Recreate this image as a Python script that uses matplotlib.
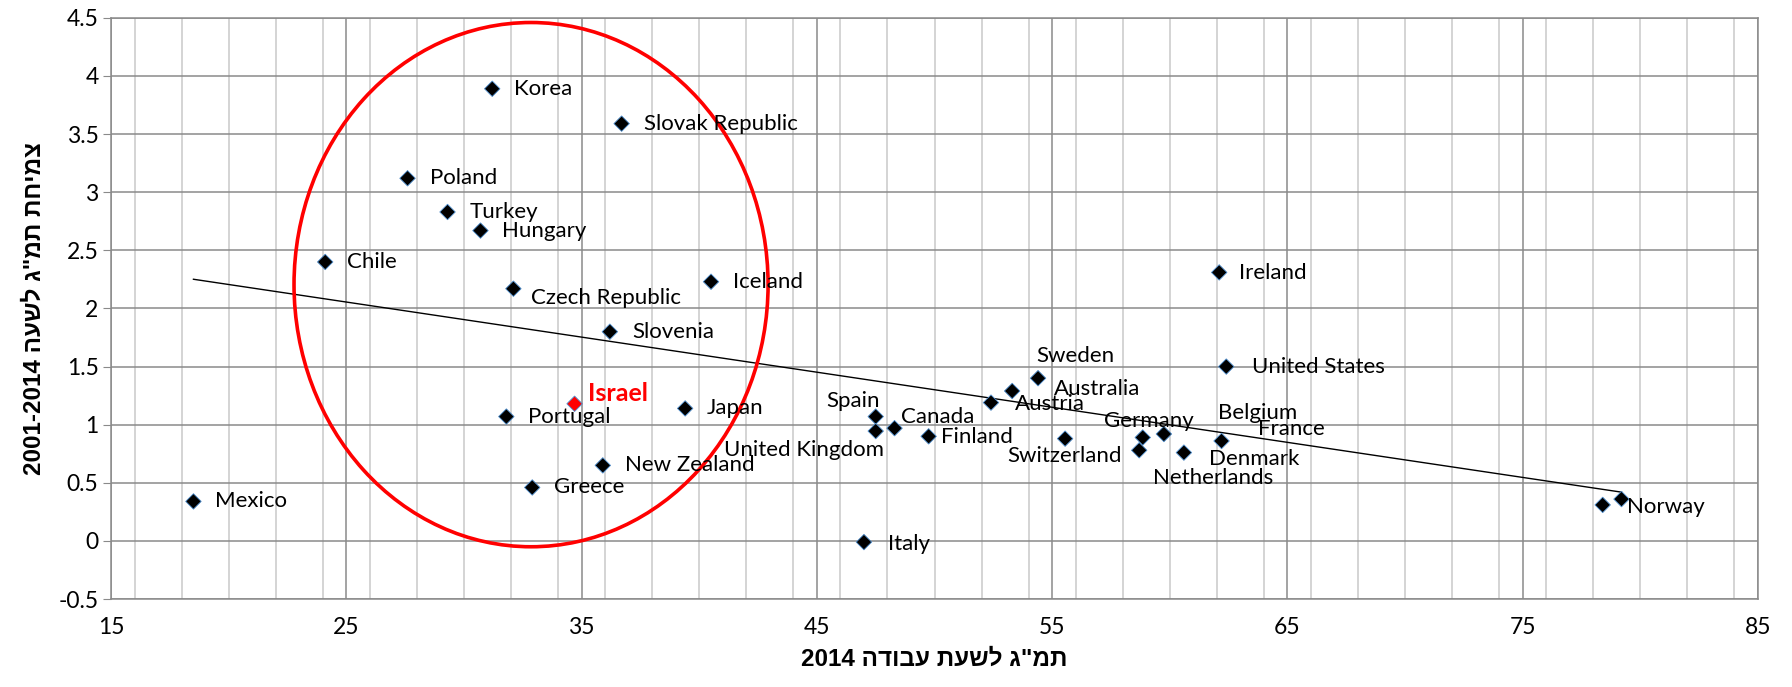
import numpy as np
import matplotlib
matplotlib.use("Agg")
import matplotlib.pyplot as plt
from matplotlib.patches import Ellipse
from matplotlib.ticker import MultipleLocator

# GDP per hour worked 2014 (x) vs. growth of GDP per hour 2001-2014 (y)
countries = ["Mexico", "Chile", "Poland", "Turkey", "Hungary", "Korea",
             "Czech Republic", "Portugal", "Greece", "Israel", "Slovenia",
             "New Zealand", "Slovak Republic", "Japan", "Iceland", "Italy",
             "Spain", "United Kingdom", "Canada", "Finland", "Austria",
             "Australia", "Sweden", "Switzerland", "Germany", "Netherlands",
             "France", "Denmark", "Belgium", "Ireland", "United States",
             "Norway", ""]
gdp_hour = [18.5, 24.1, 27.6, 29.3, 30.7, 31.2,
            32.1, 31.8, 32.9, 34.7, 36.2,
            35.9, 36.7, 39.4, 40.5, 47.0,
            47.5, 47.5, 48.3, 49.75, 52.4,
            53.3, 54.4, 55.55, 58.85, 58.7,
            59.75, 60.6, 62.2, 62.1, 62.4,
            79.2, 78.4]
growth = [0.34, 2.40, 3.12, 2.83, 2.67, 3.89,
          2.17, 1.07, 0.46, 1.18, 1.80,
          0.65, 3.59, 1.14, 2.23, -0.01,
          1.07, 0.945, 0.97, 0.90, 1.19,
          1.29, 1.40, 0.88, 0.89, 0.78,
          0.92, 0.76, 0.86, 2.31, 1.50,
          0.36, 0.31]

# label placement (offset in pixels from the point, alignment)
default_off = (22, 0, "left")
label_offsets = {
    "Czech Republic": (18, -9, "left"),
    "Israel": (13, 10, "left"),
    "Spain": (4, 16, "right"),
    "United Kingdom": (8, -19, "right"),
    "Canada": (6, 11, "left"),
    "Finland": (12, -1, "left"),
    "Austria": (24, -1, "left"),
    "Australia": (42, 2, "left"),
    "Sweden": (37, 22, "center"),
    "Switzerland": (-1, -17, "center"),
    "Germany": (6, 16, "center"),
    "Netherlands": (74, -28, "center"),
    "France": (94, 5, "left"),
    "Denmark": (25, -6, "left"),
    "Belgium": (36, 28, "center"),
    "Ireland": (20, -1, "left"),
    "United States": (26, 0, "left"),
    "Norway": (6, -8, "left"),
    "Italy": (24, -2, "left"),
}

label_font = "Lato"
fig = plt.figure(figsize=(17.92, 6.87), dpi=100)
ax = fig.add_axes([0.062, 0.128, 0.919, 0.846])

ax.set_xlim(15, 85)
ax.set_ylim(-0.5, 4.5)
ax.xaxis.set_major_locator(MultipleLocator(10))
ax.xaxis.set_minor_locator(MultipleLocator(2))
ax.yaxis.set_major_locator(MultipleLocator(0.5))

ax.grid(which="minor", axis="x", color="#c9c9c9", lw=1.1)
ax.grid(which="major", axis="x", color="#8a8a8a", lw=1.1)
ax.grid(which="major", axis="y", color="#8a8a8a", lw=1.1)
ax.set_axisbelow(True)
for sp in ax.spines.values():
    sp.set_color("#8a8a8a")
    sp.set_linewidth(1.1)

ax.tick_params(axis="x", which="both", length=0, pad=13, labelsize=16.5)
ax.tick_params(axis="y", which="major", length=6, color="#8a8a8a", pad=3, labelsize=16.5)

ax.set_xticks(range(15, 86, 10))
ax.set_xticklabels([str(v) for v in range(15, 86, 10)], fontfamily=label_font)
yt = np.arange(-0.5, 4.51, 0.5)
ax.set_yticks(yt)
ax.set_yticklabels([("%g" % v) for v in yt], fontfamily=label_font)

# trend line (least squares)
x = np.array(gdp_hour)
y = np.array(growth)
k, b = np.polyfit(x, y, 1)
xs = np.array([x.min(), x.max()])
ax.plot(xs, k * xs + b, color="black", lw=1.0, zorder=2)

# points
colors = ["#ff0000" if c == "Israel" else "black" for c in countries]
ax.scatter(x, y, marker="D", s=62, c=colors, edgecolors="#4f8fcf",
           linewidths=0.6, zorder=4)

for c, xi, yi in zip(countries, gdp_hour, growth):
    if not c:
        continue
    dx, dy, ha = label_offsets.get(c, default_off)
    if c == "Israel":
        ax.annotate(c, (xi, yi), xytext=(dx, dy), textcoords="offset pixels",
                    ha=ha, va="center", fontsize=18, color="#ff0000",
                    fontweight="bold", fontfamily=label_font, zorder=5)
    else:
        ax.annotate(c, (xi, yi), xytext=(dx, dy), textcoords="offset pixels",
                    ha=ha, va="center", fontsize=16, color="black",
                    fontfamily=label_font, zorder=5)

# red circle around the catching-up economies
ax.add_patch(Ellipse((32.85, 2.205), 20.15, 4.51, fill=False,
                     edgecolor="#ff0000", lw=2.6, zorder=3))

ax.set_xlabel("2014 הדובע תעשל ג\"מת", fontsize=17.5, fontweight="bold",
              fontfamily="Liberation Sans", labelpad=7)
ax.set_ylabel("2001-2014 העשל ג\"מת תחימצ", fontsize=17.5, fontweight="bold",
              fontfamily="Liberation Sans", labelpad=9)

fig.savefig("out.png", dpi=100)
